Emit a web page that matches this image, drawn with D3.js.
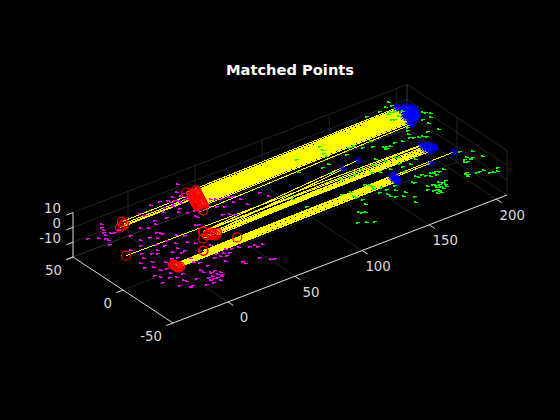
<!DOCTYPE html>
<html><head><meta charset="utf-8">
<script src="https://cdn.jsdelivr.net/npm/d3@7"></script>
<style>html,body{margin:0;background:#000}svg{display:block}text{font-family:"DejaVu Sans",sans-serif}</style>
</head><body><svg id="c" width="560" height="420"></svg>
<script>
const title = "Matched Points";
const xTicks = [0,50,100,150,200], yTicks = [-50,0,50], zTicks = [-10,0,10];
const xLim = [-41,208], yLim = [-50,50], zLim = [-20,10];

// [x, y] at z = 0
const magenta = [[-25.2,43.2],[-26.8,40],[-28.5,36.7],[-29.4,34.5],[-31.2,31.2],[-32.8,27.9],[-33.3,25.3],[-35.2,20.8],[-36.6,30.9],[-41.3,34.5],[-27.3,31.3],[-24.2,30.4],[-21.4,31.2],[1.2,39.6],[11.6,43.5],[18.6,42.8],[27,42.3],[27,39.2],[31.6,40.2],[31.8,35.5],[27.1,36.2],[34.9,37.7],[38.8,52.9],[3.3,27.3],[.4,23.5],[10.4,24.9],[19.2,25.7],[23.9,22],[-9.6,25.1],[-4.4,15.1],[-3.6,13],[-2.2,11.9],[-18.2,13.6],[-21.3,8.4],[-8.7,9.3],[-13,3.6],[-17.3,-2.2],[-26.6,.3],[-29.7,-4.8],[-21.8,-3.3],[-28.2,-11.9],[-19,-5.5],[-6.4,-7.7],[-4,-12.5],[2.6,-5.5],[-5.4,3.7],[-34.7,-8.5],[-35.1,-14.2],[-31.4,-17.1],[-30.5,-32.9],[-35.2,-29.2],[-37.4,-35.2],[-28.3,-49.9],[-21.5,-33.9],[-8,-42.7],[-4.2,-42.7],[-3.3,-46.4],[-3.2,-49.5],[-10,-47.4],[-7.8,-50.5],[-13.7,-50.4],[-13.3,-53.9],[-9,-54.1],[-18,-53.2],[11.8,-29.3],[15.8,-30.9],[43.6,26.4],[41.9,17.1],[52.4,15.1],[28.8,-33.4],[31.4,-33.9],[33.3,-35.4],[35.9,-35.9],[14.8,-45.2],[15,-47],[25.7,-47.6],[29,-53.2],[32,-54],[-3.8,-2.1],[-6.9,-13.3],[-11.3,-40.2],[5.1,-30.2],[8.2,-31.1],[12.2,-32.7],[-27.6,-29.1],[-25.4,-23.2],[-26.5,-40.6],[-25.3,-49],[46,24.5],[50,23],[53.5,21.8],[56.7,20.8],[57.5,8],[72.3,14.9],[73.2,8],[39.1,7.2],[41.9,5],[44.7,2.8],[18.6,7.8],[20.5,6.4],[5.7,-9.5],[29.3,22.2],[25,16.5],[8.9,-27.1],[-8.8,-26.9],[-5.5,-29.5],[-7.5,-22],[6.7,1.9],[2.4,5.2],
[23.7,41.7],[22.6,38.2],[23.7,35.7],[27,33.2],[35.1,42],[33.2,46.5],[17.3,36.1],[20.6,33.6],[23,28.7],[24.6,13.9],[30.3,18.5],[37.7,20.4],[45.7,14.2],[57.8,15.4],[-10,-.4],[-11.7,-9.6],[-12.4,-16.6],[-22.1,-16.7],[-16,-15.4],[-30.2,-22.5],[-36.2,-25.5],[-27.7,-35.1],[-31.5,-44.3],[-25.9,-42.7],[-18.4,-43.8],[-11.3,-37.2],[-3.9,-35.3],[6.3,-38.6],[-7.1,-43.5],[-6.1,-47.3],[-10.4,-50],[-5.7,-50.7],[-12.1,-47.2],[14.9,-27.1],[19.6,-27.8],[23.1,-29],[3.1,-18],[11.3,-16.8],[-18.9,21.7],[-5.8,22.2],[2.2,35.7],[12.1,31.2],[-11.3,12.8],[-30,7.6]];
const green = [[197.4,54.5],[177.4,48.7],[191.1,44.2],[188.5,35.5],[206.3,32.5],[208.2,31],[209.4,28.5],[201.8,25.3],[206.5,24.7],[188.9,23.1],[183.9,16.4],[195.5,12],[201.6,10.2],[182.7,12.8],[186.5,9.8],[191.4,7.5],[176,11.9],[172,13.4],[162.7,13],[165.3,12.6],[166.7,11.5],[158.7,17.7],[160.9,23.6],[153.3,20.4],[149.2,25],[140.7,19.5],[150.3,4.5],[146.7,-.3],[161.2,-1],[162.6,-2.1],[169.3,-10.2],[192.9,-28.5],[195.3,-30.3],[198.1,-29.5],[203.1,-31.8],[196.3,-18.9],[201.9,-23.3],[184.6,-41.7],[181.7,-45.5],[189.3,-45.4],[193.5,-45.7],[195.4,-50.1],[199.5,-51.7],[202.8,-48.3],[157.1,-26.5],[161.8,-27.1],[166.4,-29.2],[170.6,-29.4],[175.3,-30],[159.9,-40.8],[163.6,-40.7],[166,-42.5],[159.1,-44.8],[162.2,-45.7],[164.5,-47.5],[158.9,-49.1],[155.3,-50.9],[158.6,-12.5],[150.2,-10.6],[140.1,-7.3],[143.4,-9.9],[127.7,-15.9],[128.8,-18.3],[130,-20.8],[151.3,-31.2],[152.8,-32.3],[155.5,-40.6],[153.9,-43.7],[140.8,-38.2],[142.8,-45.8],[130.9,-36.6],[133.8,-38.8],[137.1,-41.4],[133.6,-25],[138.5,-51.5],[116,-29.6],[113.3,-35.2],[114.5,-25.4],[104.3,-40.2],[106.2,-41.7],[107.6,-42.8],[97.1,-49.9],[100.9,-52.8],[105.8,-55.1],[114.8,-18.1],[133.6,37.1],[131.7,32.5],[130.5,28.9],[129.3,25.3],[120.1,15.8],[124.5,16.9],[120.7,7.7],[119.5,-1.9],[113.5,33],[104.6,20.1],[84.5,-15.8],[82.4,-3.7],[109.6,-17.1],[113.4,-23.1],[147.1,25.1],
[192.4,50.8],[197.1,50.1],[188.8,42.9],[194.2,43.2],[192,37.3],[187.1,36.6],[197.5,40.7],[187.1,48.7],[201.2,19.7],[184.6,11.3],[189.1,9.4],[186.8,20.3],[162.3,10.4],[164.4,10.3],[157.8,-28.6],[163,-29.6],[167.8,-30.3],[172.5,-30.8],[164.2,-32],[168.9,-32.6],[160,-42.5],[163.2,-43.3],[165.6,-45.2],[158.6,-47.4],[161.7,-48.3],[156.1,-46.9],[157.9,-51.4],[168.8,-41.7],[194.8,-26.9],[192.9,-31.5],[190.2,-31],[184,-44.3],[182.1,-42.9],[191.4,-45.5],[196.9,-51.2],[141.1,-27.9],[137.6,-32.7],[134.5,-28.7],[130.9,-33.5],[129,-29.1],[127.9,-23.6],[155.9,-18],[153.7,-1.1],[159.3,-8.6],[163.3,-13.1],[137,-.4],[125.6,-3.7],[130.1,-2.6]];

// matched pairs: [x1, y1, x2, y2] at z = 0
const bandMatches = [[37.2,41.9,197,45.6],[43.3,40.3,201.5,44.4],[39,39.1,197.5,43.4],[42.7,38.2,203,42.4],[38.2,37.3,199,41.4],[41.9,36.6,204,40.6],[37.4,35.9,198.5,39.9],[41.2,35.3,202,39.2],[37,34.8,205,38.7],[40.8,34.3,199,38.2],[36.6,33.8,202.5,37.7],[40.4,33.3,197,37.2],[36.2,32.8,204,36.7],[40,32.3,199.5,36.2],[35.8,31.8,201,35.7],[39.6,31.3,196,35.2],[35.4,30.8,203,34.7],[39.2,30.3,198.5,34.2],[35,29.8,201.5,33.7],[38.8,29.3,195.5,33.2],[34.6,28.8,202,32.7],[38.4,28.3,197,32.2],[34.2,27.8,200,31.7],[38,27.3,196,31.2],[33.8,26.8,201,30.7],[37.6,26.3,196.5,30.2],[33.4,25.6,199.5,29.5],[37.1,24.9,194,28.6],[32.8,24.2,198,27.8],[36.3,23,192,26.4],[32.4,18.4,193,24.4]];
const leftMatches = [[-13.8,37.5,198.5,40],[-14.3,34.8,198,37.3],[-19.1,32.4,194.2,34.3],[-16.2,33.3,197.5,34.7],[-36.2,3.3,182.1,1]];
const midMatches = [[17.4,-1.8,183.1,.3],[17.4,-2.2,185.2,-1.8],[12.3,-8.5,180.7,-3.9],[16.4,-7,183.1,-2.7],[20,-5.3,185.2,-2.8],[20.1,-7,185.9,-4.9],[20.4,-8.7,186.6,-6.9],[20.6,-10.3,181.8,-6.3],[23.3,-7.9,186.3,-6],[22.5,-8.6,182.5,-8.3],[19,-8.3,184,-4.2],[16.4,-7,128,6.6],[17.4,-1.8,141.6,9.7]];
const lowMatches = [[-20.5,-22.5,145.7,-17.7],[-20.4,-23.3,145.8,-18.6],[-20.3,-24.2,145.6,-20],[-20.3,-24.9,145.6,-20.7],[-20.2,-25.8,145.5,-21.6],[-20.2,-26.5,145.5,-22.3],[-20.2,-27.2,145.4,-25.2],[-18.6,-27,145.4,-24.6],[-19,-25.8,145.5,-23.4],[3.7,-20.1,192.7,-17.7],[3.7,-20.6,147.8,-18.2],[29.2,-20,173.9,-19.9]];

const X = d3.scaleLinear(xLim,[0,1]), Y = d3.scaleLinear(yLim,[0,1]), Z = d3.scaleLinear(zLim,[0,1]);
const sx = d3.scaleLinear([0,1],[0,334]), sxy = d3.scaleLinear([0,1],[0,-100]);
const sy = d3.scaleLinear([0,1],[0,-128]), syy = d3.scaleLinear([0,1],[0,-66]), syz = d3.scaleLinear([0,1],[0,-44.5]);
const px = (x,y) => 173 + sx(X(x)) + sxy(Y(y));
const py = (x,y,z) => 323 + sy(X(x)) + syy(Y(y)) + syz(Z(z));

const svg = d3.select("#c");
svg.append("rect").attr("width",560).attr("height",420).attr("fill","#000");
const gridC = "#303030", axisC = "#d9d9d9";
const seg = (g,a,b,c,w=0.7) => g.append("line").attr("x1",px(a[0],a[1])).attr("y1",py(a[0],a[1],a[2])).attr("x2",px(b[0],b[1])).attr("y2",py(b[0],b[1],b[2])).attr("stroke",c).attr("stroke-width",w);

const grid = svg.append("g");
const [x0,x1] = xLim, [y0,y1] = yLim, [z0,z1] = zLim;
xTicks.forEach(t=>{ seg(grid,[t,y0,z0],[t,y1,z0],gridC); seg(grid,[t,y1,z0],[t,y1,z1],gridC); });
yTicks.forEach(t=>{ seg(grid,[x0,t,z0],[x1,t,z0],gridC); seg(grid,[x1,t,z0],[x1,t,z1],gridC); });
zTicks.forEach(t=>{ seg(grid,[x0,y1,t],[x1,y1,t],gridC); seg(grid,[x1,y1,t],[x1,y0,t],gridC); });
seg(grid,[x1,y1,z0],[x1,y1,z1],gridC);
seg(grid,[x0,y1,z0],[x1,y1,z0],gridC); seg(grid,[x1,y1,z0],[x1,y0,z0],gridC);

const axes = svg.append("g");
seg(axes,[x0,y0,z0],[x1,y0,z0],axisC,1);
seg(axes,[x0,y0,z0],[x0,y1,z0],axisC,1);
seg(axes,[x0,y1,z0],[x0,y1,z1],axisC,1);
xTicks.forEach(t=>seg(axes,[t,y0,z0],[t,y0-5.5,z0],axisC,1));
yTicks.forEach(t=>seg(axes,[x0,t,z0],[x0-5,t,z0],axisC,1));
[z0,...zTicks].forEach(t=>seg(axes,[x0,y1,t],[x0-5,y1,t],axisC,1));

const matches = [...bandMatches,...leftMatches,...midMatches,...lowMatches];
svg.append("g").attr("stroke","#ffff00").attr("stroke-width",1).attr("shape-rendering","crispEdges").selectAll("line").data(matches).join("line")
  .attr("x1",d=>px(d[0],d[1])).attr("y1",d=>py(d[0],d[1],0)).attr("x2",d=>px(d[2],d[3])).attr("y2",d=>py(d[2],d[3],0));

const speckA = {draw(c){c.moveTo(-2,0);c.lineTo(2,0);c.lineTo(2,1);c.lineTo(0,1);c.lineTo(0,2);c.lineTo(-2,2);c.closePath();}};
const speckB = {draw(c){c.moveTo(-1,-1);c.lineTo(1,-1);c.lineTo(1,0);c.lineTo(3,0);c.lineTo(3,1);c.lineTo(-1,1);c.closePath();}};
const dots = (arr,c) => svg.append("g").attr("fill",c).attr("shape-rendering","crispEdges").selectAll("path").data(arr).join("path")
  .attr("d",(d,i)=>d3.symbol().type(i%2?speckA:speckB)())
  .attr("transform",d=>`translate(${Math.round(px(d[0],d[1]))},${Math.round(py(d[0],d[1],0))})`);
dots(magenta,"#ff00ff");

svg.append("g").attr("fill","none").attr("stroke","#ff0000").attr("stroke-width",1.2).selectAll("circle").data(matches).join("circle")
  .attr("cx",d=>px(d[0],d[1])).attr("cy",d=>py(d[0],d[1],0)).attr("r",4.5);
const star = {draw(ctx,size){const r=Math.sqrt(size)/2;const q=r*Math.SQRT1_2;
  ctx.moveTo(-r,0);ctx.lineTo(r,0);ctx.moveTo(0,-r);ctx.lineTo(0,r);ctx.moveTo(-q,-q);ctx.lineTo(q,q);ctx.moveTo(-q,q);ctx.lineTo(q,-q);}};
const starPath = d3.symbol().type(star).size(72);
svg.append("g").attr("fill","none").attr("stroke","#0000ff").attr("stroke-width",1).selectAll("path").data(matches).join("path")
  .attr("d",starPath).attr("transform",d=>`translate(${px(d[2],d[3])},${py(d[2],d[3],0)})`);
dots(green,"#00ff00");

const label = (x,y,s,a="middle") => svg.append("text").attr("x",x).attr("y",y).attr("fill",axisC).attr("font-size",13.33).attr("text-anchor",a).attr("dominant-baseline","central").text(s);
xTicks.forEach(t=>label(px(t,y0)+16,py(t,y0,z0)+16,t));
yTicks.forEach(t=>label(px(x0,t)-11,py(x0,t,z0)+13,t,"end"));
zTicks.forEach(t=>label(61,py(x0,y1,t)-4,t,"end"));
svg.append("text").attr("x",290).attr("y",69.5).attr("fill","#fff").attr("font-size",14.67).attr("font-weight","bold").attr("text-anchor","middle").attr("dominant-baseline","central").text(title);
</script></body></html>
